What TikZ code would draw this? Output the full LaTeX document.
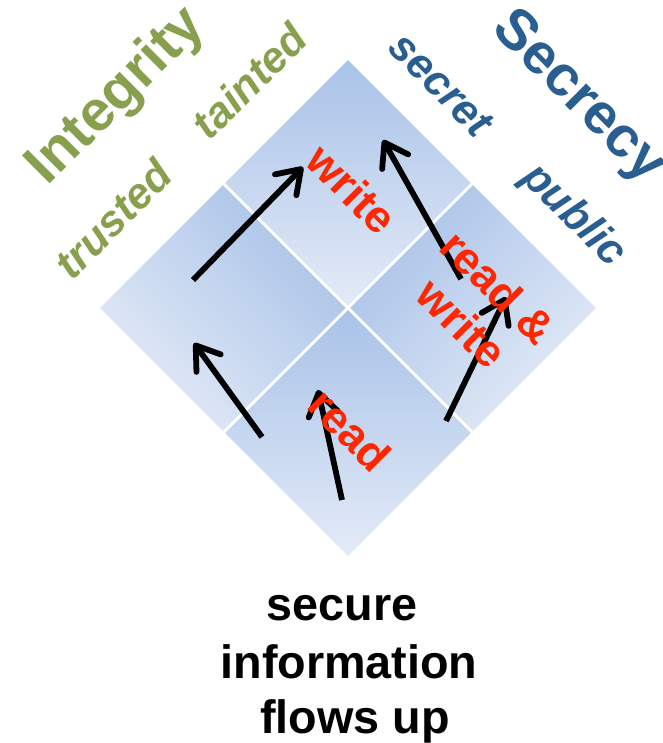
\documentclass[tikz,border=0pt]{standalone}
\usepackage{fontspec}
\setmainfont{Liberation Sans}
\usetikzlibrary{arrows.meta}

\definecolor{tileDark}{RGB}{168,194,232}
\definecolor{tileLight}{RGB}{228,235,247}
\definecolor{integrityGreen}{RGB}{136,160,78}
\definecolor{secrecyBlue}{RGB}{42,94,145}
\definecolor{flowRed}{RGB}{255,38,0}

\begin{document}
\begin{tikzpicture}[x=0.02cm,y=-0.02cm,
  tile/.style={draw=white, line width=1.6pt, top color=tileDark, bottom color=tileLight},
  flow/.style={draw=black, line width=3.3pt, -{Straight Barb[length=12.5pt,width=17pt,round]}},
  redlabel/.style={text=flowRed, font=\fontsize{25.5}{29}\selectfont\bfseries,
    rotate=-45, inner sep=0pt, align=center},
  axistitle/.style={font=\fontsize{32.5}{38}\selectfont\bfseries, inner sep=0pt},
  levellabel/.style={font=\fontsize{24.5}{28}\selectfont\bfseries\itshape, inner sep=0pt},
  caption/.style={font=\fontsize{26.6}{32}\selectfont\bfseries, inner sep=0pt, anchor=base}
]
\useasboundingbox (0,0) rectangle (662,743);

% the four cells of the lattice
\path[tile, shading angle=-45] (98,308) -- (223,183) -- (348,308) -- (223,433) -- cycle;
\path[tile] (223,183) -- (348,58) -- (473,183) -- (348,308) -- cycle;
\path[tile, shading angle=45] (348,308) -- (473,183) -- (598,308) -- (473,433) -- cycle;
\path[tile] (223,433) -- (348,308) -- (473,433) -- (348,558) -- cycle;

% end points of the flows
\coordinate (w1s) at (193,280);  \coordinate (w1e) at (303,167);
\coordinate (r1s) at (262,437);  \coordinate (r1e) at (194,343);
\coordinate (r2s) at (342,500);  \coordinate (r2e) at (318,390);
\coordinate (rw1s) at (461,279); \coordinate (rw1e) at (383,140);
\coordinate (rw2s) at (446,421); \coordinate (rw2e) at (506,297);

\draw[flow] (w1s) -- (w1e);
\draw[flow] (r1s) -- (r1e);
\draw[flow] (r2s) -- (r2e);
\draw[flow] (rw1s) -- (rw1e);
\draw[flow] (rw2s) -- (rw2e);

% operation labels
\node[redlabel] (lwrite) at (352,189) {write};
\node[redlabel] (lread) at (350,430) {read};
\node[redlabel] (lrw) at (480,305) {read \&\\write};

% integrity axis
\node[axistitle, text=integrityGreen, rotate=45] (integrity) at (117,97) {Integrity};
\node[levellabel, text=integrityGreen, rotate=45] (trusted) at (113,219) {trusted};
\node[levellabel, text=integrityGreen, rotate=45] (tainted) at (249,81) {tainted};

% secrecy axis
\node[axistitle, text=secrecyBlue, rotate=-45] (secrecy) at (578,98) {Secrecy};
\node[levellabel, text=secrecyBlue, rotate=-45] (secret) at (441,85) {secret};
\node[levellabel, text=secrecyBlue, rotate=-45] (public) at (573,216) {public};

% caption
\node[caption] (cap1) at (342,620) {secure};
\node[caption] (cap2) at (349,678) {information};
\node[caption] (cap3) at (355,733) {flows up};
\end{tikzpicture}
\end{document}
